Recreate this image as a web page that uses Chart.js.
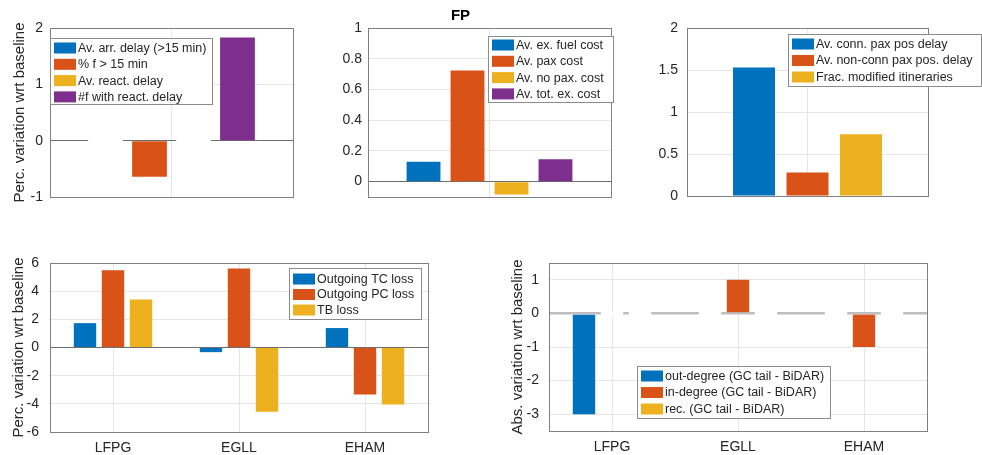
<!DOCTYPE html>
<html>
<head>
<title>FP</title>
<script src="https://cdn.jsdelivr.net/npm/chart.js"></script>
<style>
  body { margin: 0; background: #fff; width: 982px; height: 455px; position: relative; overflow: hidden; }
  canvas { position: absolute; }
</style>
</head>
<body>
<canvas id="c1" width="310" height="215" style="left:0;top:0"></canvas>
<canvas id="c2" width="320" height="215" style="left:310px;top:0"></canvas>
<canvas id="c3" width="352" height="215" style="left:630px;top:0"></canvas>
<canvas id="c4" width="490" height="240" style="left:0;top:215px"></canvas>
<canvas id="c5" width="492" height="240" style="left:490px;top:215px"></canvas>
<script>
// MATLAB default colours
const blue = '#0072BD', orange = '#D95319', yellow = '#EDB120', purple = '#7E2F8E';

// top left: delays
const delayLabels = ['Av. arr. delay (>15 min)', '% f > 15 min', 'Av. react. delay', '#f with react. delay'];
const delayValues = [0, -0.64, 0, 1.83];
const delayTicks = [-1, 0, 1, 2];

// top middle: FP costs
const costLabels = ['Av. ex. fuel cost', 'Av. pax cost', 'Av. no pax. cost', 'Av. tot. ex. cost'];
const costValues = [0.13, 0.724, -0.083, 0.146];
const costTicks = [0, 0.2, 0.4, 0.6, 0.8, 1];

// top right: passengers
const paxLabels = ['Av. conn. pax pos delay', 'Av. non-conn pax pos. delay', 'Frac. modified itineraries'];
const paxValues = [1.53, 0.28, 0.735];
const paxTicks = [0, 0.5, 1, 1.5, 2];

// bottom: per airport
const airports = ['LFPG', 'EGLL', 'EHAM'];
const lossLabels = ['Outgoing TC loss', 'Outgoing PC loss', 'TB loss'];
const tcLoss = [1.73, -0.33, 1.38];
const pcLoss = [5.49, 5.61, -3.33];
const tbLoss = [3.40, -4.56, -4.04];
const lossTicks = [-6, -4, -2, 0, 2, 4, 6];

const degreeLabels = ['out-degree (GC tail - BiDAR)', 'in-degree (GC tail - BiDAR)', 'rec. (GC tail - BiDAR)'];
const outDegree = [-3, 0, 0];
const inDegree = [0, 1, -1];
const recDegree = [0, 0, 0];
const degreeTicks = [-3, -2, -1, 0, 1];

const colors = [blue, orange, yellow, purple];
const FONT = "'Liberation Sans', Arial, Helvetica, sans-serif";
Chart.defaults.font.family = FONT;
Chart.defaults.color = '#262626';

// box around the axes
const boxPlugin = {
  id: 'box',
  afterDraw(chart) {
    const a = chart.chartArea, ctx = chart.ctx;
    ctx.save();
    ctx.strokeStyle = '#808080';
    ctx.lineWidth = 1;
    ctx.strokeRect(Math.round(a.left) + 0.5, Math.round(a.top) + 0.5,
      Math.round(a.right - a.left), Math.round(a.bottom - a.top));
    ctx.restore();
  }
};

// legend drawn inside the axes, like matlab
const inLegend = {
  id: 'inLegend',
  afterDraw(chart, args, o) {
    const a = chart.chartArea, ctx = chart.ctx;
    const x = Math.round(a.left + o.dx), y = Math.round(a.top + o.dy);
    ctx.save();
    ctx.fillStyle = '#fff';
    ctx.fillRect(x, y, o.w, o.h);
    ctx.strokeStyle = '#8c8c8c';
    ctx.lineWidth = 1;
    ctx.strokeRect(x + 0.5, y + 0.5, o.w, o.h);
    ctx.font = '12.5px ' + FONT;
    ctx.textBaseline = 'middle';
    chart.data.datasets.forEach((ds, i) => {
      const cy = y + o.first + i * o.pitch;
      ctx.fillStyle = ds.swatch;
      ctx.fillRect(x + 4, cy - 5.5, 22, 11);
      ctx.fillStyle = '#262626';
      ctx.fillText(ds.label, x + 28, cy + 0.5);
    });
    ctx.restore();
  }
};

function ds(label, data, color) {
  // zero bars are white so they cut the baseline
  return { label, data, swatch: color, borderWidth: 0,
    backgroundColor: c => (c.raw === 0 ? '#fff' : color) };
}

function panel(id, o) {
  return new Chart(document.getElementById(id), {
    type: 'bar',
    data: { labels: o.labels, datasets: o.datasets },
    options: {
      responsive: false,
      animation: false,
      layout: { padding: o.padding },
      datasets: { bar: { categoryPercentage: o.cat, barPercentage: o.bar, minBarLength: o.minBar || 0 } },
      plugins: {
        legend: { display: false },
        tooltip: { enabled: false },
        title: o.title || { display: false },
        inLegend: o.legend
      },
      scales: {
        x: {
          grid: { offset: false, color: '#e6e6e6', drawTicks: false },
          border: { display: false },
          ticks: { display: !!o.showX, font: { size: 14 }, padding: 7.5, maxRotation: 0 },
          afterFit: s => { s.height = o.xh; }
        },
        y: {
          min: o.min, max: o.max,
          afterBuildTicks: s => { s.ticks = o.ticks.map(v => ({ value: v })); },
          ticks: { font: { size: 14 }, padding: o.tp, callback: v => String(v) },
          grid: {
            drawTicks: false,
            color: c => (c.tick && c.tick.value === 0 ? o.zeroColor : '#e6e6e6'),
            lineWidth: c => (c.tick && c.tick.value === 0 ? o.zeroWidth : 1)
          },
          border: { display: false },
          title: { display: !!o.ytitle, text: o.ytitle, font: { size: 15 }, padding: { top: o.titlePad || 0, bottom: 0 } },
          afterFit: s => { s.width = o.yw; }
        }
      }
    },
    plugins: [boxPlugin, inLegend]
  });
}

panel('c1', {
  labels: [''],
  datasets: delayLabels.map((l, i) => ds(l, [delayValues[i]], colors[i])),
  padding: { left: 0, top: 28, right: 17, bottom: 18 },
  cat: 0.724, bar: 0.79, minBar: 3,
  min: -1, max: 2, ticks: delayTicks, tp: 7, yw: 50, xh: 0,
  zeroColor: '#6e6e6e', zeroWidth: 1,
  ytitle: 'Perc. variation wrt baseline', titlePad: 11,
  legend: { dx: 0, dy: 10, w: 162, h: 66, first: 10, pitch: 16.3 }
});

panel('c2', {
  labels: [''],
  datasets: costLabels.map((l, i) => ds(l, [costValues[i]], colors[i])),
  padding: { left: 0, top: 0, right: 19, bottom: 18 },
  title: { display: true, text: 'FP', color: '#000', font: { size: 15, weight: 'bold' }, padding: { top: 6.6, bottom: 3.4 } },
  cat: 0.724, bar: 0.77,
  min: -0.1, max: 1, ticks: costTicks, tp: 6, yw: 58, xh: 0,
  zeroColor: '#6e6e6e', zeroWidth: 1,
  legend: { dx: 120, dy: 8, w: 125, h: 66, first: 9, pitch: 16.3 }
});

panel('c3', {
  labels: [''],
  datasets: paxLabels.map((l, i) => ds(l, [paxValues[i]], colors[i])),
  padding: { left: 0, top: 28, right: 54, bottom: 19 },
  cat: 0.666, bar: 0.785,
  min: 0, max: 2, ticks: paxTicks, tp: 9, yw: 57, xh: 0,
  zeroColor: '#808080', zeroWidth: 1,
  legend: { dx: 101, dy: 6, w: 193, h: 52, first: 10, pitch: 16.5 }
});

panel('c4', {
  labels: airports,
  datasets: [ds(lossLabels[0], tcLoss, blue), ds(lossLabels[1], pcLoss, orange), ds(lossLabels[2], tbLoss, yellow)],
  padding: { left: 0, top: 48, right: 62, bottom: 0 },
  cat: 0.667, bar: 0.8, showX: true,
  min: -6, max: 6, ticks: lossTicks, tp: 11, yw: 50, xh: 23,
  zeroColor: '#6e6e6e', zeroWidth: 1,
  ytitle: 'Perc. variation wrt baseline', titlePad: 9.5,
  legend: { dx: 239, dy: 5, w: 132, h: 51, first: 11, pitch: 15.5 }
});

panel('c5', {
  labels: airports,
  datasets: [ds(degreeLabels[0], outDegree, blue), ds(degreeLabels[1], inDegree, orange), ds(degreeLabels[2], recDegree, yellow)],
  padding: { left: 0, top: 48, right: 55, bottom: 0 },
  cat: 0.667, bar: 0.8, minBar: 4, showX: true,
  min: -3.5, max: 1.5, ticks: degreeTicks, tp: 10, yw: 59, xh: 24,
  zeroColor: '#bdbdbd', zeroWidth: 2.5,
  ytitle: 'Abs. variation wrt baseline', titlePad: 19,
  legend: { dx: 88, dy: 103, w: 193, h: 52, first: 10, pitch: 16.5 }
});
</script>
</body>
</html>
